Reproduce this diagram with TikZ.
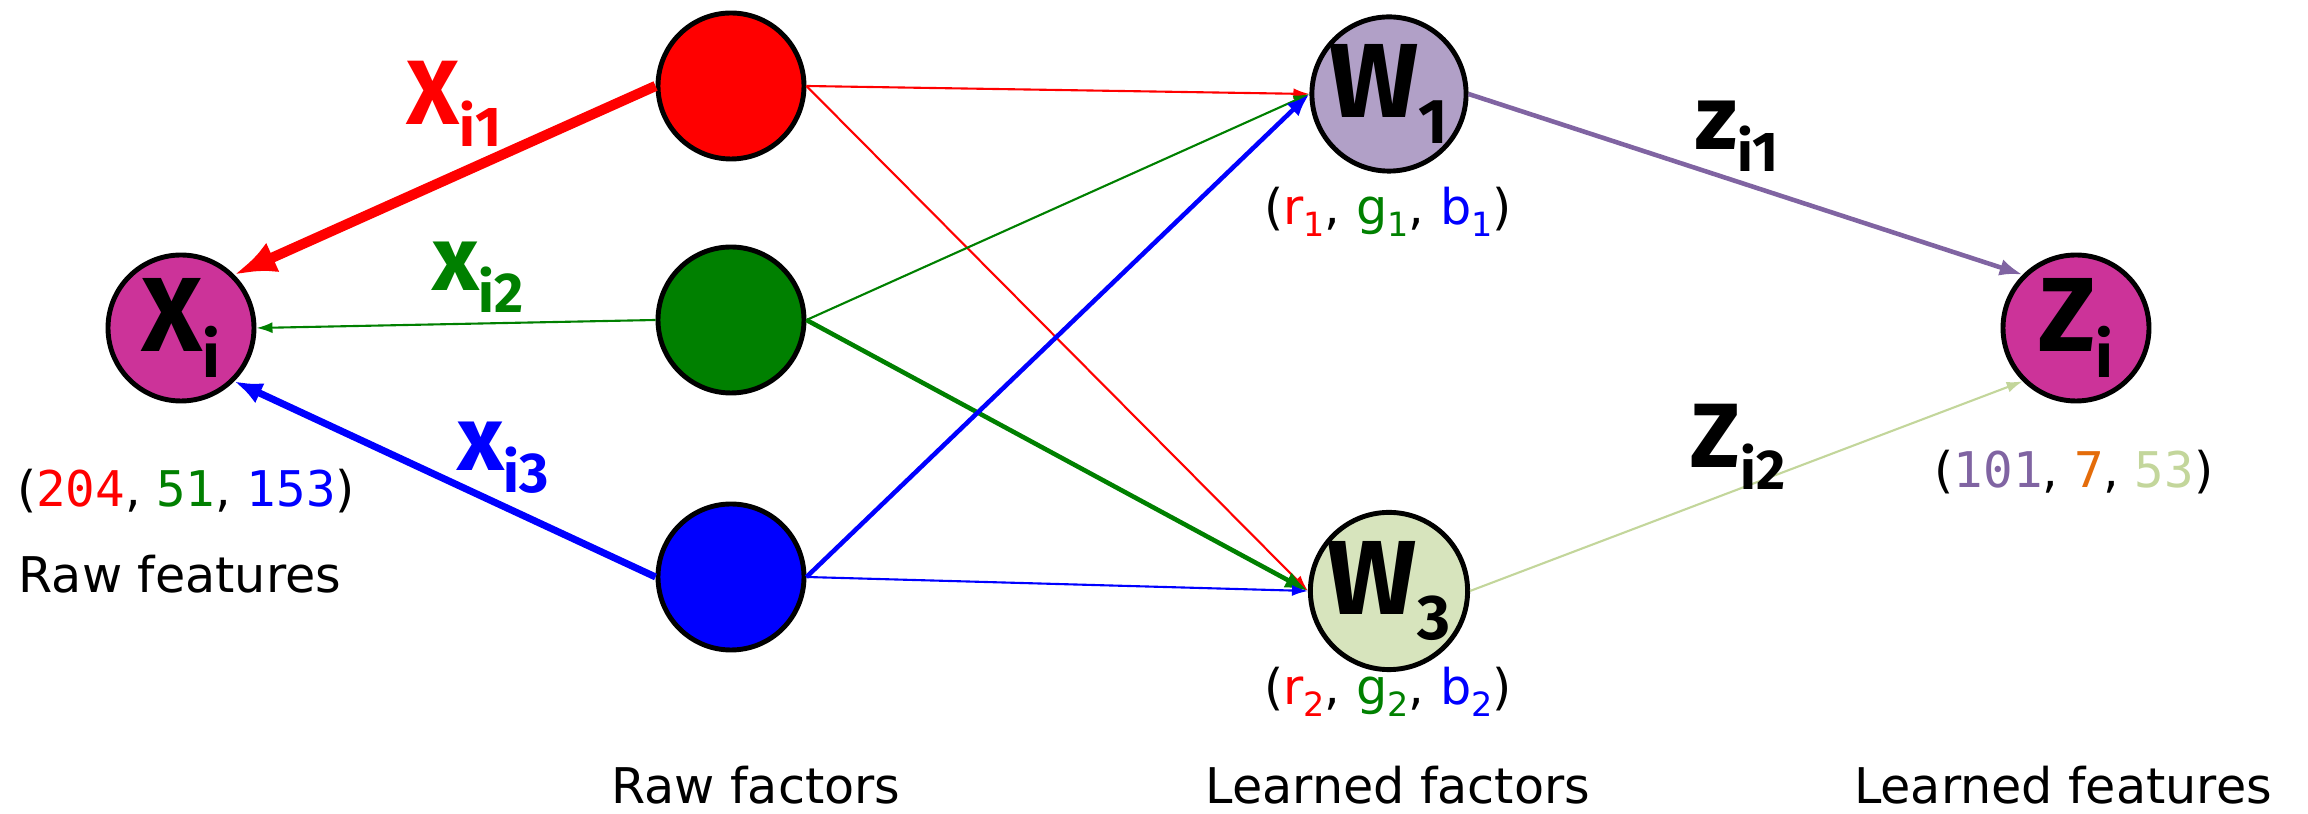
\documentclass[tikz,border=0pt]{standalone}
\usepackage{fontspec}
\setmainfont{DejaVu Sans}
\newfontfamily\mono{DejaVu Sans Mono}
\newfontfamily\hand{Fira Sans}
\usetikzlibrary{arrows.meta}
\definecolor{mag}{HTML}{CC3399}
\definecolor{lila}{HTML}{B1A0C7}
\definecolor{lilad}{HTML}{8064A2}
\definecolor{hgruen}{HTML}{D7E4BD}
\definecolor{hgruend}{HTML}{C3D69B}
\definecolor{gruen}{HTML}{008000}
\definecolor{orng}{HTML}{E46C0A}
\newcommand{\gsub}[1]{\raisebox{-0.45ex}{\fontsize{18}{18}\selectfont #1}}
\newcommand{\ksub}[1]{\raisebox{-0.45ex}{\fontsize{16}{16}\selectfont #1}}
\newcommand{\tsub}[1]{\raisebox{-3.4pt}{\fontsize{9.5}{9.5}\selectfont #1}}
\tikzset{
  kreis/.style={circle,draw=black,line width=1.4pt,minimum size=1.46cm,inner sep=0pt},
  pf/.style={-{Latex[length=1.6mm,width=1.1mm]},line width=0.6pt},
  pfm/.style={-{Latex[length=2.3mm,width=1.7mm]},line width=1.3pt},
  pfs/.style={-{Latex[length=2.8mm,width=2.2mm]},line width=2pt},
  pfd/.style={-{Latex[length=4.2mm,width=3.2mm]},line width=2.9pt},
  gross/.style={font=\hand\bfseries\fontsize{30}{30}\selectfont},
  kant/.style={font=\hand\bfseries\fontsize{26}{26}\selectfont},
  txt/.style={font=\fontsize{14}{16}\selectfont,anchor=base,inner sep=0pt},
}
\begin{document}
\begin{tikzpicture}
  \useasboundingbox (0,0) rectangle (23.08,8.14);
  % ===== Knoten =====
  \node[kreis,fill=mag,gross] (xi) at (1.81,4.86) {X\gsub{i}};
  \node[kreis,fill=red] (rot) at (7.31,7.28) {};
  \node[kreis,fill=gruen] (gruen) at (7.31,4.94) {};
  \node[kreis,fill=blue] (blau) at (7.31,2.37) {};
  \node[kreis,fill=lila,gross] (w1) at (13.89,7.20) {W\gsub{1}};
  \node[kreis,fill=hgruen,gross] (w3) at (13.89,2.23) {W\gsub{3}};
  \node[kreis,fill=mag,gross] (zi) at (20.76,4.86) {Z\gsub{i}};
  % ===== Pfeile links =====
  \draw[pfd,red] (rot.west) -- (xi.north east);
  \draw[pf,gruen] (gruen.west) -- (xi.east);
  \draw[pfs,blue] (blau.west) -- (xi.south east);
  % ===== Pfeile Mitte =====
  \draw[pf,red] (rot.east) -- (w1.west);
  \draw[pf,red] (rot.east) -- (w3.west);
  \draw[pf,gruen] (gruen.east) -- (w1.west);
  \draw[pfm,gruen] (gruen.east) -- (w3.west);
  \draw[pfm,blue] (blau.east) -- (w1.west);
  \draw[pf,blue] (blau.east) -- (w3.west);
  % ===== Pfeile rechts =====
  \draw[pfm,lilad] (w1.east) -- (zi.north west);
  \draw[pf,hgruend] (w3.east) -- (zi.south west);
  % ===== Kantenbeschriftungen =====
  \node[kant,red] (lx1) at (4.54,7.10) {X\ksub{i1}};
  \node[kant,gruen] (lx2) at (4.78,5.37) {x\ksub{i2}};
  \node[kant,blue] (lx3) at (5.03,3.56) {x\ksub{i3}};
  \node[kant] (lz1) at (17.37,6.78) {z\ksub{i1}};
  \node[kant] (lz2) at (17.38,3.67) {Z\ksub{i2}};
  % ===== Werte =====
  \node[txt] (wx) at (1.86,3.07) {(\textcolor{red}{\mono 204}, \textcolor{gruen}{\mono 51}, \textcolor{blue}{\mono 153})};
  \node[txt] (ww1) at (13.88,5.89) {(\textcolor{red}{r\tsub{1}}, \textcolor{gruen}{g\tsub{1}}, \textcolor{blue}{b\tsub{1}})};
  \node[txt] (ww3) at (13.88,1.09) {(\textcolor{red}{r\tsub{2}}, \textcolor{gruen}{g\tsub{2}}, \textcolor{blue}{b\tsub{2}})};
  \node[txt] (wz) at (20.74,3.26) {(\textcolor{lilad}{\mono 101}, \textcolor{orng}{\mono 7}, \textcolor{hgruend}{\mono 53})};
  % ===== Spalten =====
  \node[txt] (t1) at (1.80,2.21) {Raw features};
  \node[txt] (t2) at (7.56,0.1) {Raw factors};
  \node[txt] (t3) at (13.98,0.1) {Learned factors};
  \node[txt] (t4) at (20.63,0.1) {Learned features};
\end{tikzpicture}
\end{document}
